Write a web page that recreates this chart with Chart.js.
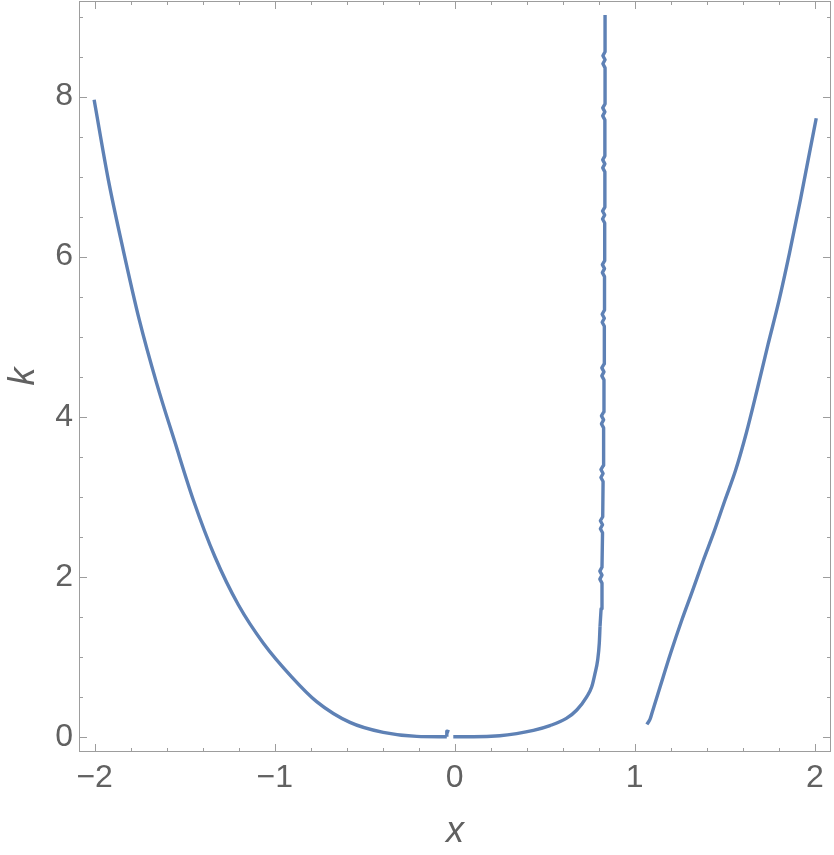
<!DOCTYPE html>
<html>
<head>
<meta charset="utf-8">
<script src="https://cdn.jsdelivr.net/npm/chart.js@4/dist/chart.umd.min.js"></script>
<style>
  body { margin: 0; background: #fff; }
  canvas { display: block; }
</style>
</head>
<body>
<canvas id="contour" width="834" height="855"></canvas>
<script>
const xTickValues = [-2, -1, 0, 1, 2];
const kTickValues = [0, 2, 4, 6, 8];

// left branch
const leftX = [-2.003, -1.924, -1.841, -1.752, -1.656, -1.554, -1.452, -1.332, -1.202, -1.063, -0.906, -0.767, -0.582, -0.397, -0.211, -0.044];
const leftK = [7.96, 6.96, 6.08, 5.21, 4.42, 3.68, 2.96, 2.25, 1.65, 1.17, 0.75, 0.44, 0.18, 0.055, 0.005, 0.0];

// the little hook where the left branch stops
const hookX = [-0.044, -0.044, -0.03];
const hookK = [0.0, 0.07, 0.06];

// middle branch: bottom curve
const midX = [-0.008, 0.103, 0.25, 0.344, 0.437, 0.529, 0.62, 0.678, 0.733, 0.761, 0.779, 0.794, 0.803, 0.807];
const midK = [0.0, 0.0, 0.013, 0.04, 0.08, 0.14, 0.23, 0.335, 0.5, 0.625, 0.79, 0.96, 1.17, 1.375];

// middle branch: the near-vertical part with its small wobbles
const wallX = [0.807, 0.813,
  0.818, 0.806, 0.818, 0.806, 0.818,
  0.821, 0.809, 0.821, 0.809, 0.822,
  0.824, 0.812, 0.824, 0.812, 0.825,
  0.827, 0.815, 0.827, 0.815, 0.828,
  0.829, 0.817, 0.829, 0.817, 0.83,
  0.831, 0.819, 0.831, 0.819, 0.831,
  0.832, 0.82, 0.832, 0.82, 0.833,
  0.833, 0.821, 0.833, 0.821, 0.834,
  0.834, 0.822, 0.834, 0.822, 0.834,
  0.834, 0.822, 0.834, 0.822, 0.835,
  0.835, 0.823, 0.835, 0.823, 0.835,
  0.835];
const wallK = [1.375, 1.6,
  1.92, 1.97, 2.02, 2.07, 2.12,
  2.55, 2.6, 2.65, 2.7, 2.75,
  3.19, 3.24, 3.29, 3.34, 3.39,
  3.86, 3.91, 3.96, 4.01, 4.06,
  4.46, 4.51, 4.56, 4.61, 4.66,
  5.13, 5.18, 5.23, 5.28, 5.33,
  5.75, 5.8, 5.85, 5.9, 5.95,
  6.42, 6.47, 6.52, 6.57, 6.62,
  7.06, 7.11, 7.16, 7.21, 7.26,
  7.71, 7.76, 7.81, 7.86, 7.91,
  8.36, 8.41, 8.46, 8.51, 8.56,
  9.02];

// right branch
const rightX = [1.067, 1.085, 1.10, 1.14, 1.20, 1.26, 1.32, 1.38, 1.44, 1.50, 1.56, 1.62, 1.68, 1.74, 1.80, 1.86, 1.92, 1.963, 2.008];
const rightK = [0.155, 0.22, 0.33, 0.62, 1.05, 1.45, 1.82, 2.2, 2.56, 2.95, 3.33, 3.8, 4.34, 4.9, 5.44, 6.05, 6.71, 7.21, 7.73];

const lineColor = '#5e81b5';
const frameColor = '#9d9d9d';
const labelColor = '#616161';
const fontFamily = '"Liberation Sans", Arial, sans-serif';

function series(xs, ks, smooth) {
  return {
    data: xs.map((x, i) => ({ x: x, y: ks[i] })),
    showLine: true,
    borderColor: lineColor,
    borderWidth: 3.4,
    borderJoinStyle: 'round',
    pointRadius: 0,
    tension: smooth ? 0.4 : 0,
    cubicInterpolationMode: smooth ? 'monotone' : 'default',
    fill: false
  };
}

function fmt(v) {
  return v < 0 ? '\u2212' + Math.abs(v) : String(v);
}

// frame with inward ticks on all four sides, like the original
const frameTicks = {
  id: 'frameTicks',
  afterDatasetsDraw(chart) {
    const { ctx, chartArea: a, scales } = chart;
    const sx = scales.x, sy = scales.y;
    ctx.save();
    ctx.strokeStyle = frameColor;
    ctx.lineWidth = 1;
    ctx.strokeRect(a.left + 0.5, a.top + 0.5, a.right - a.left - 1, a.bottom - a.top - 1);
    ctx.beginPath();
    for (let i = -10; i <= 10; i++) {
      const v = i / 5;
      const len = i % 5 === 0 ? 8 : 4;
      const px = Math.round(sx.getPixelForValue(v)) + 0.5;
      ctx.moveTo(px, a.bottom); ctx.lineTo(px, a.bottom - len);
      ctx.moveTo(px, a.top); ctx.lineTo(px, a.top + len);
    }
    for (let i = 0; i <= 18; i++) {
      const v = i / 2;
      const len = i % 4 === 0 ? 8 : 4;
      const py = Math.round(sy.getPixelForValue(v)) + 0.5;
      ctx.moveTo(a.left, py); ctx.lineTo(a.left + len, py);
      ctx.moveTo(a.right, py); ctx.lineTo(a.right - len, py);
    }
    ctx.stroke();
    ctx.restore();
  }
};

const ctx = document.getElementById('contour').getContext('2d');
const contourChart = new Chart(ctx, {
  type: 'scatter',
  data: {
    datasets: [
      series(leftX, leftK, true),
      series(hookX, hookK, false),
      series(midX, midK, true),
      series(wallX, wallK, false),
      series(rightX, rightK, true)
    ]
  },
  options: {
    responsive: false,
    animation: false,
    layout: { padding: { top: 1, right: 3, left: 0, bottom: 0 } },
    plugins: { legend: { display: false }, tooltip: { enabled: false } },
    scales: {
      x: {
        type: 'linear',
        min: -2.087,
        max: 2.09,
        afterBuildTicks: s => { s.ticks = xTickValues.map(v => ({ value: v })); },
        afterFit: s => { s.height = 103; s.paddingLeft = 0; s.paddingRight = 0; },
        grid: { display: false, drawTicks: false },
        border: { display: false },
        ticks: {
          color: labelColor,
          font: { family: fontFamily, size: 32 },
          padding: 7,
          maxRotation: 0,
          autoSkip: false,
          callback: v => fmt(v)
        },
        title: {
          display: true,
          text: 'x',
          color: labelColor,
          font: { family: fontFamily, size: 36, style: 'italic' },
          padding: { top: 0, bottom: 1 }
        }
      },
      y: {
        type: 'linear',
        min: -0.19,
        max: 9.195,
        afterBuildTicks: s => { s.ticks = kTickValues.map(v => ({ value: v })); },
        afterFit: s => { s.width = 79; s.paddingTop = 0; s.paddingBottom = 0; },
        grid: { display: false, drawTicks: false },
        border: { display: false },
        ticks: {
          color: labelColor,
          font: { family: fontFamily, size: 32 },
          padding: 6,
          autoSkip: false,
          callback: v => fmt(v)
        },
        title: {
          display: true,
          text: 'k',
          color: labelColor,
          font: { family: fontFamily, size: 36, style: 'italic' },
          padding: { top: 2, bottom: 0 }
        }
      }
    }
  },
  plugins: [frameTicks]
});
</script>
</body>
</html>
